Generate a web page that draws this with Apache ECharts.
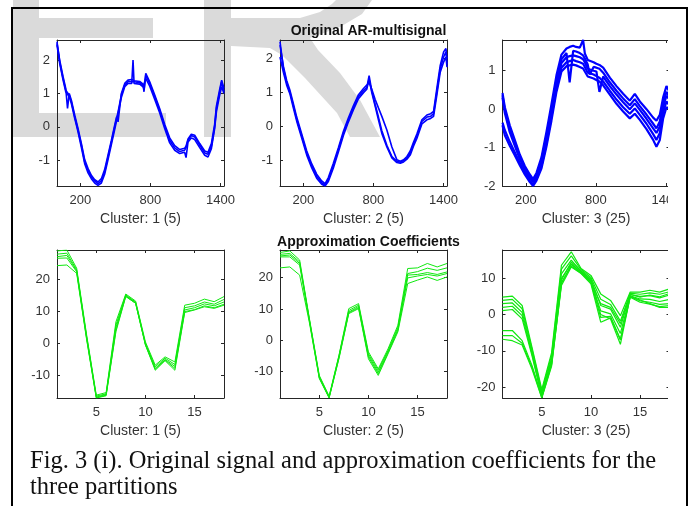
<!DOCTYPE html>
<html>
<head>
<meta charset="utf-8">
<script src="https://cdn.jsdelivr.net/npm/echarts@6/dist/echarts.min.js"></script>
<style>
    html, body { margin: 0; padding: 0; background: #fff; }
    #grafico { width: 694px; height: 506px; }
</style>
</head>
<body>
<div id="grafico"></div>
<script>
// ---- Dados ----

// Sinal original, cluster 1 (posição da amostra e três curvas do feixe)
const amostrasC1 = [0,23,52,75,90,105,123,152,180,209,237,266,294,323,351,380,408,437,466,494,510,523,551,580,608,640,651,660,708,737,745,760,794,837,879,922,965,1008,1051,1093,1105,1122,1150,1179,1222,1265,1293,1322,1350,1365,1393,1410,1430];
const sinalC1 = [
    [2.55,1.95,1.45,1.10,1.05,0.95,0.75,0.30,-0.10,-0.55,-1.05,-1.30,-1.50,-1.62,-1.70,-1.62,-1.35,-0.90,-0.45,0.00,0.25,0.45,0.95,1.25,1.35,1.35,1.38,1.35,1.32,1.25,1.10,1.55,1.30,0.90,0.50,0.02,-0.40,-0.63,-0.74,-0.70,-0.62,-0.40,-0.26,-0.30,-0.55,-0.78,-0.82,-0.58,0.00,0.55,1.05,1.35,1.05],
    [2.45,1.90,1.40,1.05,1.00,0.90,0.70,0.25,-0.15,-0.62,-1.10,-1.38,-1.55,-1.68,-1.75,-1.68,-1.42,-0.98,-0.52,-0.08,0.18,0.40,0.88,1.20,1.30,1.30,2.00,1.30,1.28,1.20,1.15,1.45,1.22,0.82,0.42,-0.05,-0.48,-0.70,-0.80,-0.76,-0.92,-0.45,-0.33,-0.38,-0.62,-0.85,-0.90,-0.65,-0.05,0.45,0.95,1.20,1.00],
    [2.50,2.00,1.50,1.15,0.55,1.00,0.80,0.35,-0.05,-0.50,-0.98,-1.25,-1.45,-1.58,-1.65,-1.55,-1.28,-0.84,-0.40,0.05,0.30,0.15,1.00,1.30,1.40,1.42,1.40,1.38,1.36,1.28,1.05,1.60,1.35,0.95,0.55,0.08,-0.33,-0.56,-0.68,-0.64,-0.58,-0.36,-0.22,-0.25,-0.50,-0.72,-0.76,-0.50,0.08,0.62,1.12,1.40,1.15]
];

// Sinal original, cluster 2
const amostrasC2 = [0,29,57,86,114,143,186,229,272,314,357,386,414,457,500,543,586,629,672,715,743,763,786,815,843,872,915,958,1001,1030,1058,1087,1115,1143,1172,1215,1258,1290,1315,1344,1372,1401,1421,1430];
const sinalC2 = [
    [2.50,1.72,1.30,1.00,0.62,0.22,-0.28,-0.78,-1.16,-1.46,-1.65,-1.72,-1.56,-1.15,-0.68,-0.20,0.20,0.56,0.88,1.06,1.15,1.50,1.05,0.65,0.28,-0.12,-0.55,-0.88,-1.02,-1.05,-1.00,-0.92,-0.78,-0.52,-0.28,0.15,0.28,0.30,0.38,1.05,1.70,2.05,2.20,1.85],
    [2.05,1.60,1.22,0.95,0.55,0.16,-0.34,-0.84,-1.22,-1.52,-1.70,-1.75,-1.62,-1.22,-0.75,-0.26,0.14,0.50,0.82,1.00,1.10,1.40,1.00,0.60,0.20,-0.20,-0.60,-0.92,-1.06,-1.08,-1.04,-0.96,-0.84,-0.58,-0.35,0.08,0.20,0.24,0.30,0.95,1.60,1.90,2.05,1.75],
    [2.40,1.78,1.36,1.06,0.68,0.28,-0.22,-0.72,-1.10,-1.40,-1.60,-1.68,-1.50,-1.08,-0.62,-0.14,0.26,0.62,0.94,1.12,1.22,1.30,1.10,0.80,0.55,0.30,-0.10,-0.60,-0.98,-1.02,-0.98,-0.88,-0.72,-0.46,-0.22,0.20,0.34,0.38,0.45,1.15,1.80,2.20,2.30,2.00]
];

// Sinal original, cluster 3
const amostrasC3 = [0,20,62,105,148,191,234,262,291,334,376,419,462,505,548,575,605,630,662,690,705,730,747,780,804,830,862,919,976,1033,1090,1133,1176,1233,1290,1318,1347,1375,1404,1430];
const sinalC3 = [
    [0.42,0.05,-0.42,-0.80,-1.18,-1.48,-1.70,-1.82,-1.66,-1.25,-0.60,0.12,0.88,1.42,1.58,1.62,1.65,1.62,1.60,1.80,1.45,1.28,1.25,1.22,1.18,1.15,1.08,0.82,0.60,0.40,0.22,0.40,0.20,0.00,-0.22,-0.30,-0.15,0.30,0.60,0.45],
    [0.36,-0.02,-0.50,-0.88,-1.24,-1.53,-1.76,-1.88,-1.72,-1.33,-0.70,0.00,0.76,1.30,1.46,0.70,1.52,1.50,1.46,1.40,1.32,1.16,0.90,1.10,1.08,1.05,0.95,0.70,0.48,0.28,0.10,0.26,0.08,-0.14,-0.38,-0.50,-0.32,0.18,0.45,0.32],
    [0.30,-0.10,-0.60,-0.95,-1.30,-1.58,-1.80,-1.90,-1.76,-1.40,-0.80,-0.10,0.65,1.20,1.35,1.38,1.40,1.38,1.35,1.30,1.22,1.05,1.02,1.00,0.98,0.45,0.85,0.60,0.38,0.18,0.00,0.15,-0.02,-0.25,-0.50,-0.62,-0.45,0.05,0.35,0.25],
    [-0.35,-0.55,-0.85,-1.12,-1.40,-1.65,-1.86,-1.96,-1.82,-1.48,-0.90,-0.20,0.55,1.08,1.22,1.25,1.28,1.25,1.22,1.18,1.10,0.95,0.92,0.90,0.86,0.82,0.72,0.48,0.25,0.05,-0.12,0.02,-0.15,-0.38,-0.65,-0.80,-0.62,-0.10,0.20,0.10],
    [-0.42,-0.68,-0.95,-1.20,-1.46,-1.70,-1.90,-2.00,-1.86,-1.54,-0.98,-0.30,0.45,0.98,1.12,1.14,1.16,1.14,1.10,1.06,0.98,0.85,0.82,0.80,0.76,0.72,0.62,0.38,0.14,-0.06,-0.24,-0.12,-0.28,-0.52,-0.80,-0.98,-0.80,-0.25,0.05,0.00]
];

// Coeficientes de aproximação (índices 1 a 18)
const indicesCoef = [1,2,3,4,5,6,7,8,9,10,11,12,13,14,15,16,17,18];
const coefC1 = [
    [29.0,29.3,23.6,3.0,-16.2,-15.4,6.8,15.5,13.3,0.5,-6.8,-4.2,-5.8,12.0,12.6,13.9,13.1,14.7],
    [28.0,28.3,23.1,2.5,-16.5,-15.8,5.8,15.2,13.0,0.0,-7.3,-4.6,-6.6,11.2,11.8,13.0,12.3,13.8],
    [27.2,27.6,22.8,2.2,-16.8,-16.0,5.0,15.0,12.8,-0.2,-7.8,-5.0,-7.2,10.5,11.2,12.4,11.8,13.0],
    [26.7,26.8,22.5,1.8,-17.0,-16.2,4.2,14.8,12.6,-0.4,-8.1,-5.2,-7.8,10.0,10.6,11.8,11.2,12.3],
    [24.4,24.6,22.0,1.5,-17.1,-16.4,3.7,14.7,12.6,-0.5,-8.4,-5.4,-8.4,9.7,10.5,11.5,11.0,12.0]
];
const coefC2 = [
    [28.0,28.5,25.6,6.8,-11.2,-17.8,-4.8,10.1,11.7,-3.7,-9.1,-2.7,4.8,22.9,23.1,24.5,23.4,24.5],
    [27.4,27.7,25.0,6.5,-11.5,-18.0,-5.0,9.5,11.2,-4.3,-9.6,-3.2,4.2,21.3,21.9,23.0,22.3,23.1],
    [26.9,27.2,24.5,6.3,-11.8,-18.2,-5.3,9.0,10.8,-4.8,-10.2,-3.6,3.6,20.8,21.0,21.6,21.0,21.8],
    [26.6,26.6,24.0,6.0,-12.0,-18.3,-5.6,8.8,10.4,-5.3,-10.7,-4.0,3.2,19.9,20.5,21.0,20.5,21.3],
    [23.1,23.4,20.8,5.5,-12.2,-18.4,-5.9,8.5,10.1,-5.9,-11.2,-4.3,2.7,18.1,19.2,20.2,19.1,20.2]
];
const coefC3 = [
    [4.8,5.1,2.5,-9.0,-20.6,-10.5,13.6,17.3,12.7,10.8,5.7,3.9,-0.3,6.2,6.2,6.7,6.2,7.1],
    [3.9,4.2,1.6,-9.5,-21.2,-11.2,12.5,16.2,12.4,10.2,4.2,2.8,-1.8,5.9,5.6,6.0,5.6,6.3],
    [3.0,3.2,0.6,-10.2,-21.8,-12.0,11.2,15.0,12.0,9.8,2.5,1.5,-3.5,5.5,5.0,5.2,4.6,5.4],
    [2.0,2.3,-0.3,-10.8,-22.3,-12.8,10.0,14.0,11.7,9.3,1.0,0.2,-5.2,5.2,4.3,4.2,3.6,4.2],
    [1.1,1.4,-1.2,-11.3,-22.7,-13.5,8.8,13.4,11.4,8.9,-0.8,-0.5,-6.8,4.9,3.8,3.4,2.8,3.0],
    [-4.4,-4.4,-7.2,-14.0,-22.5,-12.5,9.5,14.5,12.0,9.5,0.0,-1.2,-8.2,5.0,4.0,3.0,2.0,2.0],
    [-5.8,-5.8,-7.9,-14.5,-22.9,-13.8,8.0,13.1,11.3,8.5,-2.1,-0.9,-7.0,4.8,3.4,2.9,2.2,2.5],
    [-6.8,-7.2,-8.4,-15.0,-23.0,-14.2,8.5,13.8,11.6,9.0,3.0,2.0,-2.5,5.6,4.8,5.4,4.9,5.8]
];

// Marcas dos eixos e textos
const ticksSinalX = [200, 800, 1400];
const ticksSinalY = [-1, 0, 1, 2];
const ticksSinalY3 = [-2, -1, 0, 1];
const ticksCoefX = [5, 10, 15];
const ticksCoefY = [-10, 0, 10, 20];
const ticksCoefY3 = [-20, -10, 0, 10];
const nomesCluster = ['Cluster: 1 (5)', 'Cluster: 2 (5)', 'Cluster: 3 (25)'];
const titulos = ['Original AR-multisignal', 'Approximation Coefficients'];
const legenda = [
    'Fig. 3 (i). Original signal and approximation coefficients for the',
    'three partitions'
];

// ---- Montagem do gráfico ----
const grafico = echarts.init(document.getElementById('grafico'));

const azul = '#0000ff';
const verde = '#10e810';
const corEixo = '#262626';
const fonteEixo = 'Liberation Sans, Arial, sans-serif';

// Cada painel: posição na tela + faixa dos eixos + dados
const paineis = [
    { left: 57,    top: 40,  height: 146, xMin: 0, xMax: 1430, yMin: -1.77, yMax: 2.6,  xt: ticksSinalX, yt: ticksSinalY,  nome: nomesCluster[0], xs: amostrasC1, linhas: sinalC1, cor: azul,  larg: 1.6 },
    { left: 280,   top: 40,  height: 146, xMin: 0, xMax: 1430, yMin: -1.75, yMax: 2.55, xt: ticksSinalX, yt: ticksSinalY,  nome: nomesCluster[1], xs: amostrasC2, linhas: sinalC2, cor: azul,  larg: 1.6 },
    { left: 502.5, top: 40,  height: 146, xMin: 0, xMax: 1430, yMin: -2.0,  yMax: 1.8,  xt: ticksSinalX, yt: ticksSinalY3, nome: nomesCluster[2], xs: amostrasC3, linhas: sinalC3, cor: azul,  larg: 2.2 },
    { left: 57,    top: 250, height: 148, xMin: 1, xMax: 18,   yMin: -17.1, yMax: 29.3, xt: ticksCoefX,  yt: ticksCoefY,   nome: nomesCluster[0], xs: indicesCoef, linhas: coefC1, cor: verde, larg: 1 },
    { left: 280,   top: 250, height: 148, xMin: 1, xMax: 18,   yMin: -18.4, yMax: 28.8, xt: ticksCoefX,  yt: ticksCoefY,   nome: nomesCluster[1], xs: indicesCoef, linhas: coefC2, cor: verde, larg: 1 },
    { left: 502.5, top: 250, height: 148, xMin: 1, xMax: 18,   yMin: -23.0, yMax: 17.8, xt: ticksCoefX,  yt: ticksCoefY3,  nome: nomesCluster[2], xs: indicesCoef, linhas: coefC3, cor: verde, larg: 1.2 }
];

const grids = [], eixosX = [], eixosY = [], series = [];
const linhaEixo = { onZero: false, lineStyle: { color: corEixo, width: 1 } };
// rótulos sem separador de milhar (1400 e não 1,400)
const textoEixo = { color: '#333', fontSize: 13, fontFamily: fonteEixo, formatter: v => String(v) };

paineis.forEach((p, i) => {
    grids.push({ left: p.left, top: p.top, width: 167, height: p.height });

    // eixo de baixo (com rótulos) e eixo de cima (só as marcas, estilo MATLAB "box on")
    eixosX.push({
        gridIndex: i, type: 'value', position: 'bottom', min: p.xMin, max: p.xMax,
        name: p.nome, nameLocation: 'middle', nameGap: 26,
        nameTextStyle: { color: '#333', fontSize: 14, fontFamily: fonteEixo },
        axisLine: linhaEixo,
        axisTick: { inside: true, length: 3, customValues: p.xt, lineStyle: { color: corEixo } },
        axisLabel: Object.assign({ customValues: p.xt, margin: 8 }, textoEixo),
        splitLine: { show: false }
    });
    eixosX.push({
        gridIndex: i, type: 'value', position: 'top', min: p.xMin, max: p.xMax,
        axisLine: linhaEixo,
        axisTick: { inside: true, length: 3, customValues: p.xt, lineStyle: { color: corEixo } },
        axisLabel: { show: false }, splitLine: { show: false }
    });
    eixosY.push({
        gridIndex: i, type: 'value', position: 'left', min: p.yMin, max: p.yMax,
        axisLine: linhaEixo,
        axisTick: { inside: true, length: 3, customValues: p.yt, lineStyle: { color: corEixo } },
        axisLabel: Object.assign({ customValues: p.yt, margin: 7 }, textoEixo),
        splitLine: { show: false }
    });
    eixosY.push({
        gridIndex: i, type: 'value', position: 'right', min: p.yMin, max: p.yMax,
        axisLine: linhaEixo,
        axisTick: { inside: true, length: 3, customValues: p.yt, lineStyle: { color: corEixo } },
        axisLabel: { show: false }, splitLine: { show: false }
    });

    p.linhas.forEach(ys => {
        series.push({
            type: 'line', xAxisIndex: 2 * i, yAxisIndex: 2 * i,
            data: p.xs.map((x, k) => [x, ys[k]]),
            symbol: 'none', silent: true, animation: false,
            lineStyle: { color: p.cor, width: p.larg },
            itemStyle: { color: p.cor }
        });
    });
});

// Marca d'água cinza ("E" e "R") atrás de tudo
const cinza = '#dadada';
const marcaDagua = [
    { type: 'rect', z: -10, shape: { x: 13, y: 0, width: 26, height: 137 }, style: { fill: cinza } },
    { type: 'rect', z: -10, shape: { x: 39, y: 18, width: 114, height: 20 }, style: { fill: cinza } },
    { type: 'rect', z: -10, shape: { x: 39, y: 113, width: 127, height: 24 }, style: { fill: cinza } },
    { type: 'rect', z: -10, shape: { x: 204, y: 0, width: 27, height: 137 }, style: { fill: cinza } },
    { type: 'polygon', z: -10, shape: { points: [
        [231,18],[300,18],[320,12],[332,4],[336,0],[372,0],[362,14],[340,27],[310,38],
        [318,50],[340,73],[360,100],[380,137],[350,137],[337,113],[305,78],[282,55],[270,48],[231,46]
    ] }, style: { fill: cinza } }
];

const fonteLegenda = '24.5px "Liberation Serif", serif';
const elementos = marcaDagua.concat([
    // recorte branco à direita do terceiro painel
    { type: 'rect', z: 100, shape: { x: 668, y: 30, width: 18, height: 420 }, style: { fill: '#fff' } },
    // moldura da figura
    { type: 'rect', z: 101, shape: { x: 12, y: 8, width: 675, height: 520 }, style: { fill: 'none', stroke: '#000', lineWidth: 2 } },
    // legenda da figura
    { type: 'text', z: 101, left: 30, top: 449, style: { text: legenda[0], font: fonteLegenda, fill: '#111' } },
    { type: 'text', z: 101, left: 30, top: 475, style: { text: legenda[1], font: fonteLegenda, fill: '#111' } }
]);

const estiloTitulo = { fontSize: 14, fontWeight: 'bold', color: '#111', fontFamily: fonteEixo };
const opcoes = {
    backgroundColor: '#fff',
    animation: false,
    title: [
        { text: titulos[0], left: 363.5, top: 19, textAlign: 'center', textStyle: estiloTitulo },
        { text: titulos[1], left: 363.5, top: 230, textAlign: 'center', textStyle: estiloTitulo }
    ],
    grid: grids,
    xAxis: eixosX,
    yAxis: eixosY,
    series: series,
    graphic: { elements: elementos }
};

grafico.setOption(opcoes);
</script>
</body>
</html>
